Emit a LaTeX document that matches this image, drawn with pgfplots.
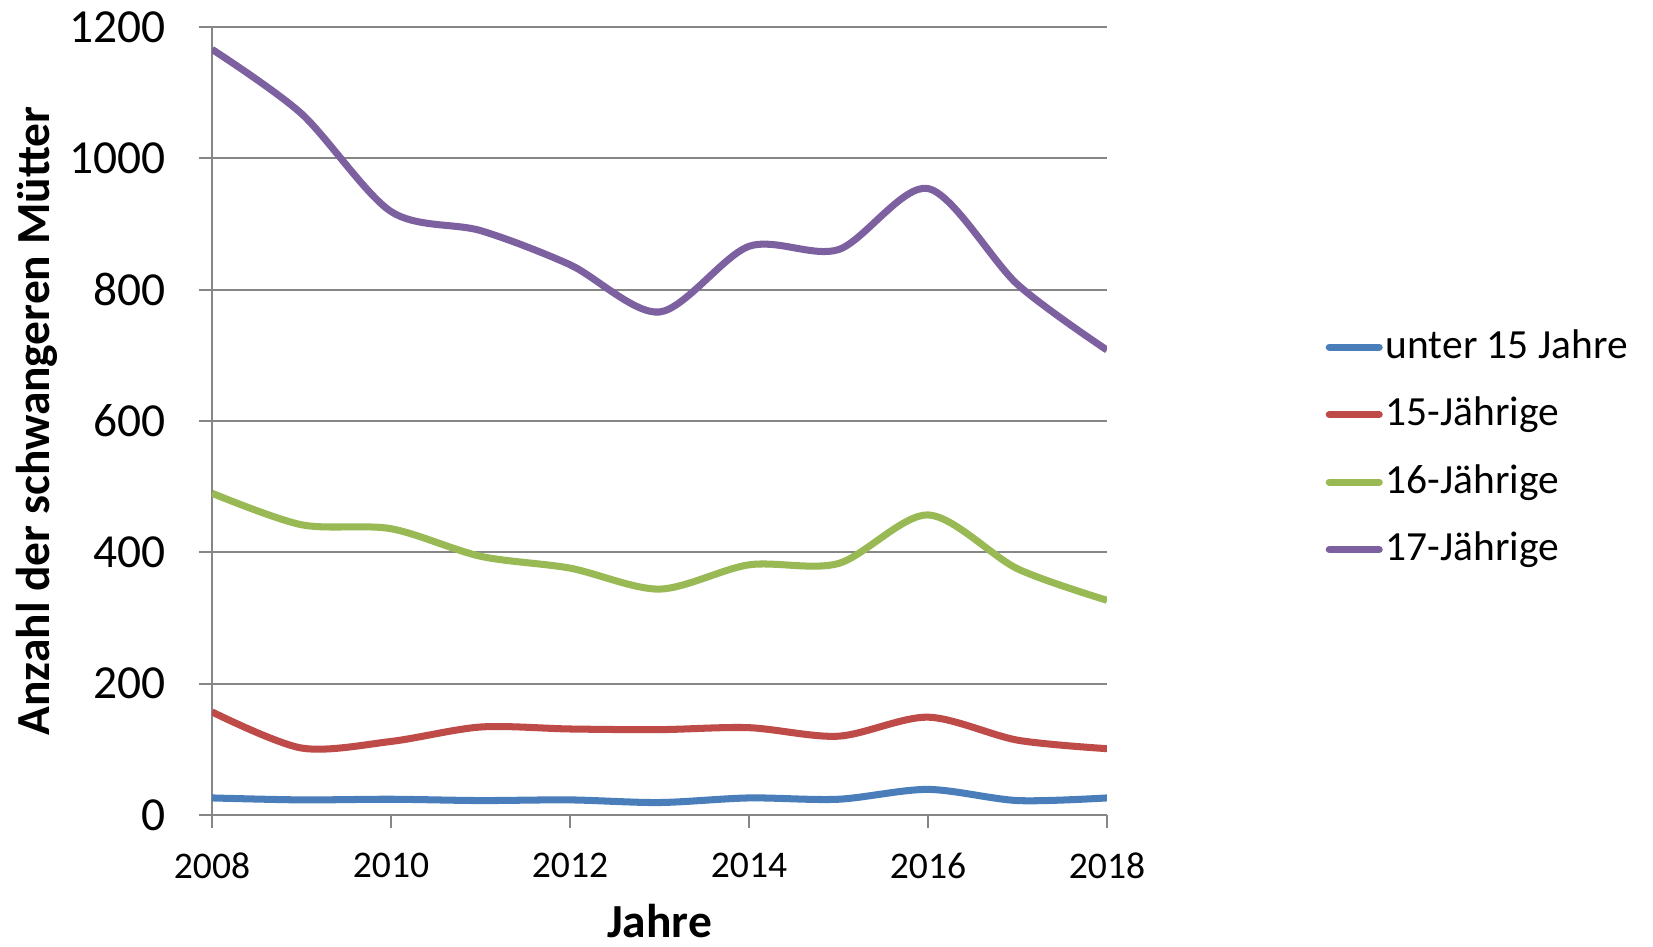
\documentclass[border=0pt]{standalone}
\usepackage{pgfplots}
\pgfplotsset{compat=1.18}
\usepackage{fontspec}
\setmainfont{Carlito}

\definecolor{cBlue}{HTML}{4A7EBB}
\definecolor{cRed}{HTML}{BE4B48}
\definecolor{cGreen}{HTML}{98B954}
\definecolor{cPurple}{HTML}{7D60A0}
\definecolor{gridgray}{HTML}{868686}

\begin{document}
\begin{tikzpicture}
\useasboundingbox (-21.2mm,-13.1mm) rectangle (144.1mm,81.5mm);
\begin{axis}[
    scale only axis, width=89.5mm, height=78.8mm,
    xmin=2008, xmax=2018, ymin=0, ymax=1200,
    xtick={2008,2010,...,2018}, ytick={0,200,...,1200},
    axis lines*=left,
    axis line style={draw=gridgray, line width=0.6pt},
    tick style={draw=gridgray, line width=0.6pt},
    tick align=outside, major tick length=1.3mm,
    ymajorgrids, major grid style={draw=gridgray, line width=0.6pt},
    /pgf/number format/assume math mode=true,
    /pgf/number format/1000 sep={},
    yticklabel style={font=\fontsize{13.5}{16}\selectfont, inner sep=0pt, anchor=east, xshift=-3.3mm},
    xticklabel style={font=\fontsize{10.7}{13}\selectfont, inner sep=0pt, anchor=north, yshift=-2.4mm},
    xlabel={Jahre}, ylabel={Anzahl der schwangeren Mütter},
    label style={font=\fontsize{13.5}{16}\selectfont\bfseries},
    xlabel style={at={(axis description cs:0.5,-0.1555)}, anchor=base},
    ylabel style={at={(axis description cs:-0.181,0.5)}, anchor=base, rotate=0},
    every axis plot/.append style={line width=2pt, smooth, tension=0.5, no markers},
    legend cell align=left,
    legend image code/.code={\draw[#1, line cap=round] (0mm,0mm) -- (5.0mm,0mm);},
    legend style={at={(axis description cs:1.2436,0.4654)}, anchor=west,
        draw=none, fill=none, inner sep=0pt, row sep=2.55mm, column sep=0.3mm,
        font=\fontsize{11.8}{14}\selectfont,
        nodes={inner sep=0pt, text height=3.2mm, text depth=1.0mm}},
]
\addplot[cBlue] coordinates {(2008,26) (2009,23) (2010,24) (2011,22) (2012,23) (2013,19) (2014,26) (2015,24) (2016,39) (2017,22) (2018,26)};
\addlegendentry{unter 15 Jahre}
\addplot[cRed] coordinates {(2008,157) (2009,102) (2010,112) (2011,134) (2012,131) (2013,130) (2014,133) (2015,120) (2016,149) (2017,114) (2018,101)};
\addlegendentry{15-Jährige}
\addplot[cGreen] coordinates {(2008,490) (2009,442) (2010,436) (2011,394) (2012,376) (2013,344) (2014,381) (2015,383) (2016,457) (2017,375) (2018,327)};
\addlegendentry{16-Jährige}
\addplot[cPurple] coordinates {(2008,1166) (2009,1068) (2010,919) (2011,890) (2012,838) (2013,766) (2014,866) (2015,861) (2016,954) (2017,808) (2018,708)};
\addlegendentry{17-Jährige}
\end{axis}
\end{tikzpicture}
\end{document}
